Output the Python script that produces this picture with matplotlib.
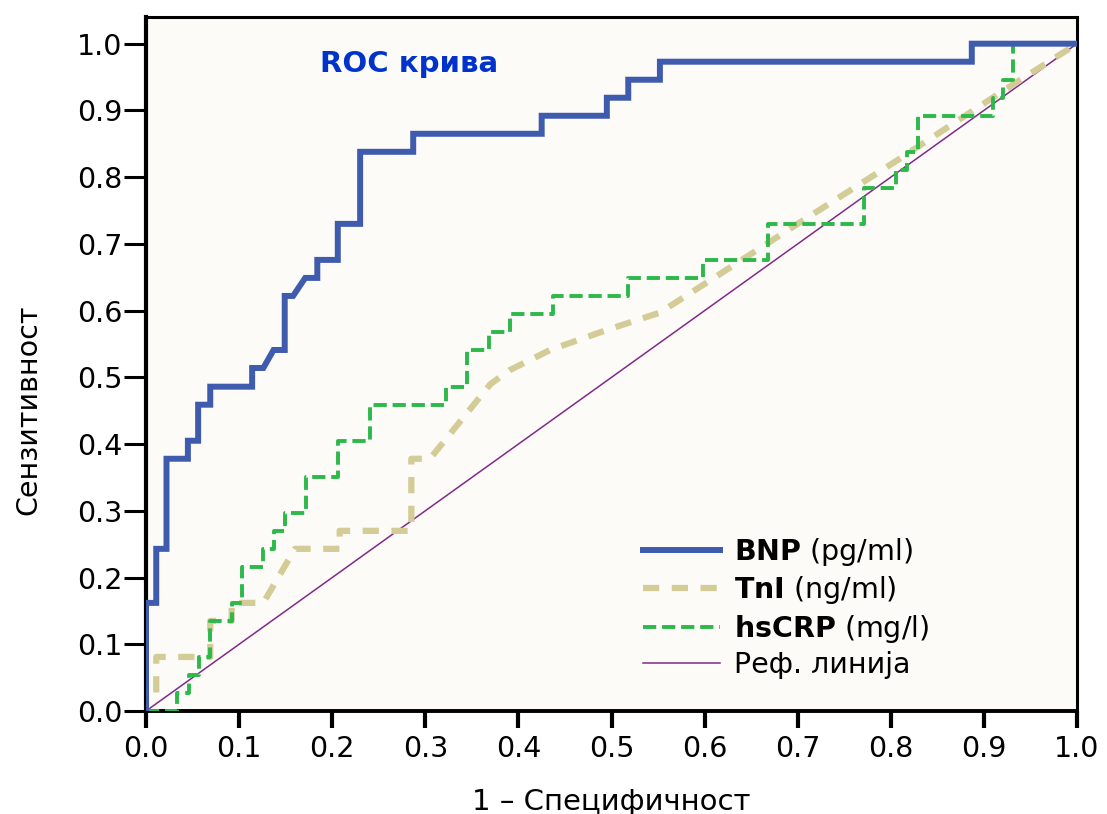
import matplotlib
matplotlib.use("Agg")
import matplotlib.pyplot as plt

# ROC curve vertices (1 - specificity, sensitivity)
bnp_x = [0, 0, 0.011, 0.011, 0.022, 0.022, 0.045, 0.045, 0.056, 0.056, 0.069, 0.069,
         0.114, 0.114, 0.126, 0.137, 0.149, 0.149, 0.158, 0.171, 0.184, 0.184, 0.206, 0.206,
         0.230, 0.230, 0.287, 0.287, 0.425, 0.425, 0.495, 0.495, 0.518, 0.518, 0.552, 0.552,
         0.887, 0.887, 1.0]
bnp_y = [0, 0.162, 0.162, 0.243, 0.243, 0.378, 0.378, 0.405, 0.405, 0.459, 0.459, 0.486,
         0.486, 0.514, 0.514, 0.541, 0.541, 0.622, 0.622, 0.649, 0.649, 0.676, 0.676, 0.730,
         0.730, 0.838, 0.838, 0.865, 0.865, 0.892, 0.892, 0.919, 0.919, 0.946, 0.946, 0.973,
         0.973, 1.0, 1.0]

tni_x = [0, 0, 0.011, 0.011, 0.069, 0.069, 0.092, 0.092, 0.126, 0.160, 0.208, 0.208,
         0.285, 0.285, 0.305, 0.370, 0.391, 0.434, 0.495, 0.552, 0.600, 0.700, 0.810,
         0.917, 1.0]
tni_y = [0, 0.027, 0.027, 0.081, 0.081, 0.135, 0.135, 0.162, 0.162, 0.243, 0.243, 0.270,
         0.270, 0.378, 0.378, 0.490, 0.511, 0.541, 0.571, 0.597, 0.640, 0.730, 0.828,
         0.926, 1.0]

crp_x = [0, 0.033, 0.033, 0.046, 0.046, 0.057, 0.057, 0.069, 0.069, 0.092, 0.092, 0.103,
         0.103, 0.126, 0.126, 0.137, 0.137, 0.149, 0.149, 0.172, 0.172, 0.206, 0.206, 0.241,
         0.241, 0.322, 0.322, 0.345, 0.345, 0.368, 0.368, 0.391, 0.391, 0.437, 0.437, 0.518,
         0.518, 0.598, 0.598, 0.668, 0.668, 0.771, 0.771, 0.806, 0.806, 0.817, 0.817, 0.829,
         0.829, 0.910, 0.910, 0.921, 0.921, 0.931, 0.931, 1.0]
crp_y = [0, 0, 0.027, 0.027, 0.054, 0.054, 0.081, 0.081, 0.135, 0.135, 0.162, 0.162,
         0.216, 0.216, 0.243, 0.243, 0.270, 0.270, 0.297, 0.297, 0.351, 0.351, 0.405, 0.405,
         0.459, 0.459, 0.486, 0.486, 0.541, 0.541, 0.568, 0.568, 0.595, 0.595, 0.622, 0.622,
         0.649, 0.649, 0.676, 0.676, 0.730, 0.730, 0.784, 0.784, 0.811, 0.811, 0.838, 0.838,
         0.892, 0.892, 0.919, 0.919, 0.946, 0.946, 1.0, 1.0]

ref_x = [0, 1]
ref_y = [0, 1]

labels = [r"$\mathbf{BNP}$ (pg/ml)", r"$\mathbf{TnI}$ (ng/ml)",
          r"$\mathbf{hsCRP}$ (mg/l)", "Реф. линија"]
ticks = [i / 10 for i in range(11)]
tick_labels = ["%.1f" % t for t in ticks]

plt.rcParams["font.family"] = ["DejaVu Sans"]
plt.rcParams["mathtext.fontset"] = "dejavusans"

fig = plt.figure(figsize=(11.07, 8.14), dpi=100)
ax = fig.add_axes([146 / 1107, 103 / 814, 931 / 1107, 694 / 814])
ax.set_facecolor("#fcfbf8")

ax.plot(bnp_x, bnp_y, color="#3f5bae", lw=4.3, solid_joinstyle="miter", label=labels[0], zorder=4)
ax.plot(tni_x, tni_y, color="#d4cc96", lw=4.5, linestyle=(0, (2.6, 2.0)), label=labels[1], zorder=2)
ax.plot(crp_x, crp_y, color="#2db84a", lw=2.8, linestyle=(0, (3.4, 1.5)), label=labels[2], zorder=3)
ax.plot(ref_x, ref_y, color="#7f2a8a", lw=1.1, label=labels[3], zorder=1)

ax.set_xlim(0, 1)
ax.set_ylim(0, 1.04)
ax.set_xticks(ticks)
ax.set_xticklabels(tick_labels)
ax.set_yticks(ticks)
ax.set_yticklabels(tick_labels)
ax.tick_params(axis="x", length=12, width=3, pad=5, labelsize=20.5)
ax.tick_params(axis="y", length=16, width=2.2, pad=1, labelsize=20.5)
for s in ax.spines.values():
    s.set_linewidth(2.2)
ax.spines["left"].set_linewidth(3)
ax.spines["bottom"].set_linewidth(2.8)

ax.set_xlabel("1 – Специфичност", fontsize=21, labelpad=18)
ax.set_ylabel("Сензитивност", fontsize=20.5)
ax.yaxis.set_label_coords(-0.111, 0.434)

ax.text(0.187, 0.97, "ROC крива", color="#0033cc", fontsize=21, fontweight="bold",
        va="center", ha="left")

ax.legend(loc="upper left", bbox_to_anchor=(0.534, 0.252), frameon=False, fontsize=20.5,
          handlelength=2.7, handletextpad=0.5, labelspacing=0.22, borderpad=0, borderaxespad=0)

fig.savefig("out.png", dpi=100)
